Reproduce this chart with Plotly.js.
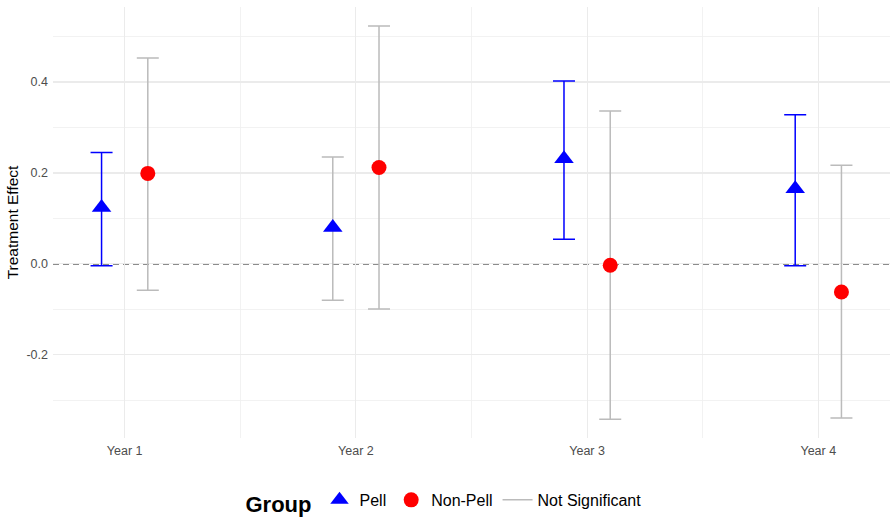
<!DOCTYPE html>
<html>
<head>
<meta charset="utf-8">
<script src="https://cdn.plot.ly/plotly-3.0.1.min.js"></script>
<style>html,body{margin:0;padding:0;background:#fff}#chart{width:890px;height:518px}</style>
</head>
<body>
<div id="chart"></div>
<script>
const years = ["Year 1", "Year 2", "Year 3", "Year 4"];
const pellEst = [0.124, 0.080, 0.231, 0.165];
const pellLow = [-0.004, -0.080, 0.054, -0.004];
const pellHigh = [0.245, 0.235, 0.402, 0.328];
const pellSig = [true, false, true, true];
const nonPellEst = [0.199, 0.212, -0.003, -0.062];
const nonPellLow = [-0.058, -0.099, -0.342, -0.339];
const nonPellHigh = [0.453, 0.523, 0.336, 0.217];
const nonPellSig = [false, false, false, false];
const yTickVals = [-0.2, 0, 0.2, 0.4];
const yTickText = ["-0.2", "0.0", "0.2", "0.4"];

const dodge = 0.1;
const pos = years.map((_, i) => i + 1);

function collect(est, low, high, sig, off, want) {
  const r = {x: [], y: [], plus: [], minus: []};
  est.forEach((v, i) => {
    if (sig[i] === want) {
      r.x.push(pos[i] + off);
      r.y.push(v);
      r.plus.push(high[i] - v);
      r.minus.push(v - low[i]);
    }
  });
  return r;
}
function merge(a, b) {
  return {x: a.x.concat(b.x), y: a.y.concat(b.y), plus: a.plus.concat(b.plus), minus: a.minus.concat(b.minus)};
}
const sigSet = merge(collect(pellEst, pellLow, pellHigh, pellSig, -dodge, true),
                     collect(nonPellEst, nonPellLow, nonPellHigh, nonPellSig, dodge, true));
const nsSet = merge(collect(pellEst, pellLow, pellHigh, pellSig, -dodge, false),
                    collect(nonPellEst, nonPellLow, nonPellHigh, nonPellSig, dodge, false));

const BLUE = "#0000FF", RED = "#FF0000", GRAY = "#BBBBBB";
function errTrace(s, color) {
  return {
    type: "scatter", mode: "markers", x: s.x, y: s.y,
    marker: {size: 1, opacity: 0},
    error_y: {type: "data", symmetric: false, array: s.plus, arrayminus: s.minus,
              color: color, thickness: 1.5, width: 11},
    showlegend: false, hoverinfo: "skip"
  };
}
const traces = [
  errTrace(nsSet, GRAY),
  errTrace(sigSet, BLUE),
  {type: "scatter", mode: "markers", name: "Pell",
   x: pos.map(p => p - dodge), y: pellEst,
   marker: {symbol: "triangle-up", size: 17, color: BLUE}},
  {type: "scatter", mode: "markers", name: "Non-Pell",
   x: pos.map(p => p + dodge), y: nonPellEst,
   marker: {symbol: "circle", size: 15, color: RED}},
  {type: "scatter", mode: "lines", name: "Not Significant",
   x: [null], y: [null], line: {color: GRAY, width: 1.5}}
];

const layout = {
  width: 890, height: 518,
  margin: {l: 53, r: 0, t: 7, b: 80},
  paper_bgcolor: "#fff", plot_bgcolor: "#fff",
  font: {family: "Liberation Sans, Arial, sans-serif", color: "#4D4D4D"},
  xaxis: {
    range: [0.69, 4.31], tickmode: "array", tickvals: pos, ticktext: years,
    showgrid: true, gridcolor: "#EBEBEB", gridwidth: 1.2, zeroline: false,
    showline: false, ticks: "", tickfont: {size: 12.5, color: "#4D4D4D"},
    ticklabelstandoff: 3,
    minor: {tickvals: [1.5, 2.5, 3.5], showgrid: true, gridcolor: "#EFEFEF", gridwidth: 0.8}
  },
  yaxis: {
    range: [-0.383, 0.565], tickmode: "array", tickvals: yTickVals, ticktext: yTickText,
    showgrid: true, gridcolor: "#EBEBEB", gridwidth: 1.2, zeroline: false,
    showline: false, ticks: "", tickfont: {size: 12.5, color: "#4D4D4D"},
    ticklabelstandoff: 4,
    title: {text: "Treatment Effect", font: {size: 15.5, color: "#000"}, standoff: 4},
    minor: {tick0: 0.1, dtick: 0.2, showgrid: true, gridcolor: "#EFEFEF", gridwidth: 0.8}
  },
  shapes: [{type: "line", xref: "paper", x0: 0, x1: 1, yref: "y", y0: 0, y1: 0,
            line: {color: "#1A1A1A", width: 1.3, dash: "6px,4px"}, layer: "between"}],
  legend: {
    orientation: "h", xref: "container", yref: "container",
    x: 0.5, xanchor: "center", y: 0.03, yanchor: "middle",
    title: {text: "<b>Group</b>", font: {size: 22, color: "#000"}, side: "left"},
    font: {size: 16, color: "#000"}, itemsizing: "trace"
  }
};
Plotly.newPlot("chart", traces, layout, {displayModeBar: false, staticPlot: true});
</script>
</body>
</html>
